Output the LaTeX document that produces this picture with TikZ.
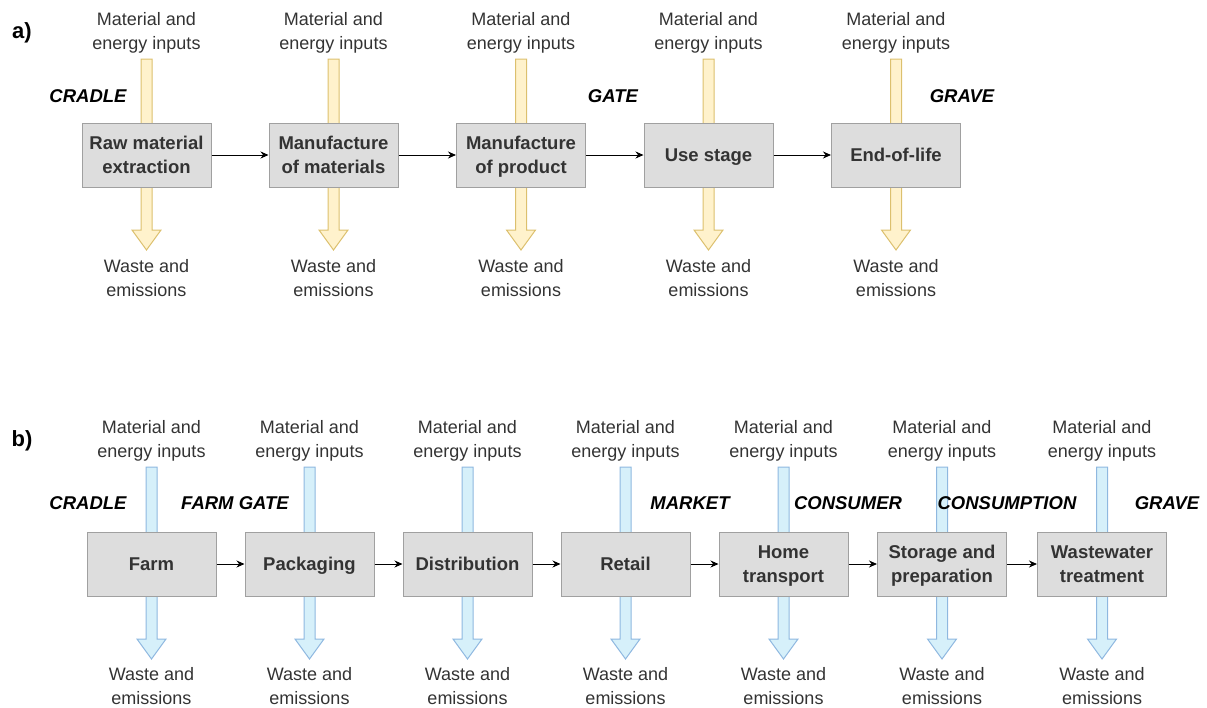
\documentclass[tikz,border=0pt]{standalone}
\usepackage{fontspec}
\setmainfont{Liberation Sans}
\usetikzlibrary{arrows.meta}
\definecolor{yfill}{HTML}{FFF2CC}
\definecolor{ydraw}{HTML}{DCC06E}
\definecolor{bfill}{HTML}{D6F0FA}
\definecolor{bdraw}{HTML}{8FB8E0}
\definecolor{boxfill}{HTML}{DDDDDD}
\definecolor{boxdraw}{HTML}{A0A0A0}
\definecolor{txt}{HTML}{333333}
\tikzset{
  stagebox/.style={draw=boxdraw, fill=boxfill, line width=1pt, minimum width=129pt, minimum height=64pt,
    inner sep=0pt, align=center, text=txt, font=\fontsize{18.5}{24}\selectfont\bfseries,
    execute at begin node={\rule{0pt}{21pt}}, execute at end node=\strut},
  stagetwo/.style={stagebox, execute at begin node={\rule{0pt}{45pt}}},
  flowtext/.style={align=center, text=txt, inner sep=0pt, font=\fontsize{18}{24}\selectfont,
    execute at begin node=\strut, execute at end node=\strut},
  boundlabel/.style={inner sep=0pt, font=\fontsize{18.5}{20}\selectfont\bfseries\itshape},
  panellabel/.style={inner sep=0pt, font=\fontsize{22}{24}\selectfont\bfseries},
  flowline/.style={-{Stealth[length=8pt,width=7pt]}, line width=1pt},
}
\newcommand{\fatarrow}[5]{% x, top, headstart, tip, style
  \draw[#5, line width=1pt, line join=miter]
    (#1-5.5,#2) -- (#1+5.5,#2) -- (#1+5.5,#3) -- (#1+14.5,#3) -- (#1,#4)
    -- (#1-14.5,#3) -- (#1-5.5,#3) -- cycle;}
\begin{document}
\begin{tikzpicture}[x=1pt,y=-1pt]
\useasboundingbox (0,0) rectangle (1207,707);
% ---------- panel a ----------
\node[panellabel] (pa) at (22,33) {a)};
\foreach \i/\x in {1/146.5,2/333.5,3/521,4/708.5,5/896}{
  \fatarrow{\x}{59}{230}{250}{draw=ydraw, fill=yfill}
  \node[flowtext] (ain\i) at (\x,35) {Material and\\energy inputs};
  \node[flowtext] (aout\i) at (\x,282) {Waste and\\emissions};
}
\node[stagetwo] (a1) at (146.5,155) {Raw material\\extraction};
\node[stagetwo] (a2) at (333.5,155) {Manufacture\\of materials};
\node[stagetwo] (a3) at (521,155) {Manufacture\\of product};
\node[stagebox] (a4) at (708.5,155) {Use stage};
\node[stagebox] (a5) at (896,155) {End-of-life};
\foreach \i/\j in {1/2,2/3,3/4,4/5}{ \draw[flowline] (a\i) -- (a\j); }
\node[boundlabel] (acradle) at (88,96) {CRADLE};
\node[boundlabel] (agate) at (613,96) {GATE};
\node[boundlabel] (agrave) at (962,96) {GRAVE};
% ---------- panel b ----------
\node[panellabel] (pb) at (22,441) {b)};
\foreach \i/\x in {1/151.5,2/309.5,3/467.5,4/625.5,5/783.5,6/942,7/1102}{
  \fatarrow{\x}{467}{639}{659}{draw=bdraw, fill=bfill}
  \node[flowtext] (bin\i) at (\x,443) {Material and\\energy inputs};
  \node[flowtext] (bout\i) at (\x,690) {Waste and\\emissions};
}
\node[stagebox] (b1) at (151.5,564) {Farm};
\node[stagebox] (b2) at (309.5,564) {Packaging};
\node[stagebox] (b3) at (467.5,564) {Distribution};
\node[stagebox] (b4) at (625.5,564) {Retail};
\node[stagetwo] (b5) at (783.5,564) {Home\\transport};
\node[stagetwo] (b6) at (942,564) {Storage and\\preparation};
\node[stagetwo] (b7) at (1102,564) {Wastewater\\treatment};
\foreach \i/\j in {1/2,2/3,3/4,4/5,5/6,6/7}{ \draw[flowline] (b\i) -- (b\j); }
\node[boundlabel] (bcradle) at (88,503) {CRADLE};
\node[boundlabel] (bfarm) at (235,503) {FARM GATE};
\node[boundlabel] (bmarket) at (690,503) {MARKET};
\node[boundlabel] (bconsumer) at (848,503) {CONSUMER};
\node[boundlabel] (bconsumption) at (1007,503) {CONSUMPTION};
\node[boundlabel] (bgrave) at (1167,503) {GRAVE};
\end{tikzpicture}
\end{document}
